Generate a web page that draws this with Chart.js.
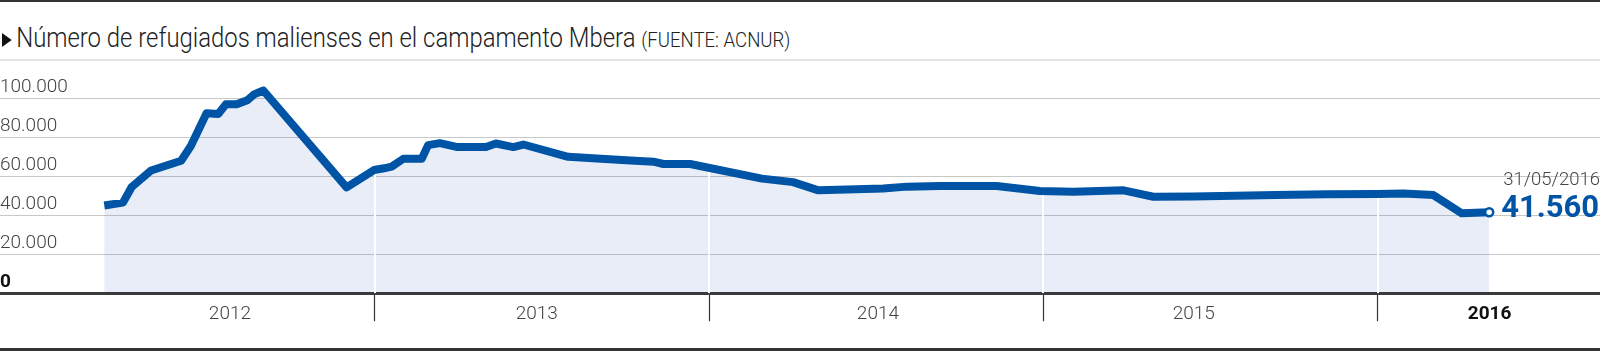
<!DOCTYPE html>
<html lang="es">
<head>
<meta charset="utf-8">
<title>Refugiados malienses en Mbera</title>
<script src="https://cdn.jsdelivr.net/npm/chart.js@4.4.1/dist/chart.umd.min.js"></script>
<style>
  html, body { margin: 0; padding: 0; background: #fff; }
  #wrap { position: relative; width: 1600px; height: 351px; overflow: hidden; font-family: Roboto, "Noto Sans", sans-serif; }
  .bar-top { position: absolute; left: 0; top: 0; width: 1600px; height: 2px; background: #333; }
  .bar-bottom { position: absolute; left: 0; top: 348px; width: 1600px; height: 3px; background: #333; }
  .rule { position: absolute; left: 0; top: 59px; width: 1600px; height: 2px; background: #e3e3e3; }
  #title { position: absolute; left: 2px; top: 23px; line-height: 30px; font-size: 27px; font-weight: 300; color: #222; white-space: nowrap; transform: scaleX(0.885); transform-origin: 0 50%; }
  #title .arrow { display: inline-block; width: 0; height: 0; border-top: 7px solid transparent; border-bottom: 7px solid transparent; border-left: 11px solid #111; margin-right: 5px; }
  #title small { font-size: 21px; }
  canvas { position: absolute; left: 0; top: 0; }
</style>
</head>
<body>
<div id="wrap">
  <div class="bar-top"></div>
  <div id="title"><span class="arrow"></span>Número de refugiados malienses en el campamento Mbera <small>(FUENTE: ACNUR)</small></div>
  <div class="rule"></div>
  <canvas id="chart" width="1600" height="351"></canvas>
  <div class="bar-bottom"></div>
</div>
<script>
// position on the time axis (decimal year) and number of refugees
const dates = [2012.19, 2012.246, 2012.272, 2012.33, 2012.42, 2012.449, 2012.496, 2012.531, 2012.554, 2012.586,
  2012.618, 2012.638, 2012.666, 2012.915, 2012.997, 2013.027, 2013.05, 2013.085, 2013.14, 2013.159,
  2013.194, 2013.247, 2013.332, 2013.362, 2013.414, 2013.444, 2013.578, 2013.676, 2013.778, 2013.833,
  2013.863, 2013.943, 2014.158, 2014.251, 2014.327, 2014.412, 2014.521, 2014.591, 2014.691, 2014.86,
  2014.99, 2015.089, 2015.24, 2015.329, 2015.448, 2015.698, 2015.848, 2016.0, 2016.077, 2016.167,
  2016.252, 2016.334];
const refugees = [45000, 46500, 54500, 63000, 68000, 75500, 92300, 92000, 96900, 96900,
  99000, 102000, 104000, 54300, 63200, 64100, 65000, 69000, 69000, 76000,
  77000, 75000, 75000, 76800, 75000, 76300, 70000, 69000, 68000, 67500,
  66300, 66300, 58800, 57000, 52800, 53200, 53800, 54700, 55000, 55000,
  52500, 52100, 52800, 49500, 49700, 50400, 50800, 50900, 51200, 50400,
  41000, 41560];
const lastDate = "31/05/2016";

const yearBounds = [2013, 2014, 2015, 2016];
const yearLabels = ["2012", "2013", "2014", "2015", "2016"];
const yearLabelAt = [2012.566, 2013.484, 2014.505, 2015.45, 2016.335];
const yTicks = [0, 20000, 40000, 60000, 80000, 100000];

const blue = "#0054a6";
const fmtNum = (v) => String(Math.round(v)).replace(/\B(?=(\d{3})+(?!\d))/g, ".");
const points = dates.map((d, i) => ({ x: d, y: refugees[i] }));
const lastIdx = points.length - 1;
const tickVal = (c) => (c && c.tick ? c.tick.value : null);

// white year lines inside the shaded area + end labels
const overlay = {
  id: "overlay",
  afterDatasetDraw(chart, args) {
    if (args.index !== 1) return;
    const pts = args.meta.data;
    const { ctx, chartArea, scales } = chart;
    const base = scales.y.getPixelForValue(0);
    ctx.save();
    ctx.beginPath();
    ctx.moveTo(pts[0].x, base);
    pts.forEach((p) => ctx.lineTo(p.x, p.y));
    ctx.lineTo(pts[pts.length - 1].x, base);
    ctx.closePath();
    ctx.clip();
    ctx.strokeStyle = "#fff";
    ctx.lineWidth = 2;
    yearBounds.forEach((v) => {
      const x = Math.round(scales.x.getPixelForValue(v));
      ctx.beginPath();
      ctx.moveTo(x, chartArea.top);
      ctx.lineTo(x, base);
      ctx.stroke();
    });
    ctx.restore();
  },
  afterDraw(chart) {
    const p = chart.getDatasetMeta(0).data[lastIdx];
    const ctx = chart.ctx;
    ctx.save();
    ctx.textAlign = "left";
    ctx.textBaseline = "alphabetic";
    ctx.fillStyle = "#444";
    ctx.font = "300 18.5px Roboto";
    ctx.fillText(lastDate, p.x + 14, p.y - 27);
    ctx.fillStyle = blue;
    ctx.font = "700 31px Roboto";
    ctx.fillText(fmtNum(refugees[lastIdx]), p.x + 12, p.y + 5);
    ctx.restore();
  },
};

new Chart(document.getElementById("chart"), {
  type: "line",
  data: {
    datasets: [
      {
        data: points, borderColor: blue, borderWidth: 8, fill: false, order: 1,
        borderJoinStyle: "round", tension: 0,
        pointRadius: (c) => (c.dataIndex === lastIdx ? 4 : 0),
        pointBackgroundColor: "#fff", pointBorderColor: blue, pointBorderWidth: 2.5,
      },
      {
        data: points, borderWidth: 0, fill: "origin", order: 2, pointRadius: 0,
        backgroundColor: "rgba(0,60,180,0.09)", tension: 0,
      },
    ],
  },
  options: {
    responsive: false,
    animation: false,
    layout: { autoPadding: false, padding: { top: 78.8, left: 0, right: 0, bottom: 0 } },
    plugins: { legend: { display: false }, tooltip: { enabled: false } },
    scales: {
      x: {
        type: "linear", min: 2011.878, max: 2016.6655,
        afterBuildTicks: (s) => {
          s.ticks = [...yearBounds, ...yearLabelAt].sort((a, b) => a - b).map((v) => ({ value: v }));
        },
        afterFit: (s) => { s.height = 57.7; },
        border: { display: true, color: "#3a3a3a", width: 3 },
        grid: {
          drawOnChartArea: false, drawTicks: true, tickLength: 28, tickWidth: 1.2,
          tickColor: (c) => (yearBounds.includes(tickVal(c)) ? "#333" : "rgba(0,0,0,0)"),
        },
        ticks: {
          autoSkip: false, maxRotation: 0, padding: -18,
          callback: (v) => { const i = yearLabelAt.indexOf(v); return i >= 0 ? yearLabels[i] : ""; },
          color: (c) => (tickVal(c) === yearLabelAt[4] ? "#111" : "#444"),
          font: (c) => (tickVal(c) === yearLabelAt[4]
            ? { family: "Roboto", size: 19, weight: "bold" }
            : { family: "Roboto", size: 19, weight: "300" }),
        },
      },
      y: {
        min: 0, max: 110000,
        afterBuildTicks: (s) => { s.ticks = yTicks.map((v) => ({ value: v })); },
        border: { display: false },
        grid: { color: "#c8c8c8", lineWidth: 1, drawTicks: false },
        ticks: {
          mirror: true, padding: 0, labelOffset: -11,
          callback: (v) => fmtNum(v),
          color: (c) => (tickVal(c) === 0 ? "#111" : "#444"),
          font: (c) => (tickVal(c) === 0
            ? { family: "Roboto", size: 19, weight: "bold" }
            : { family: "Roboto", size: 19, weight: "300" }),
        },
      },
    },
  },
  plugins: [overlay],
});
</script>
</body>
</html>
